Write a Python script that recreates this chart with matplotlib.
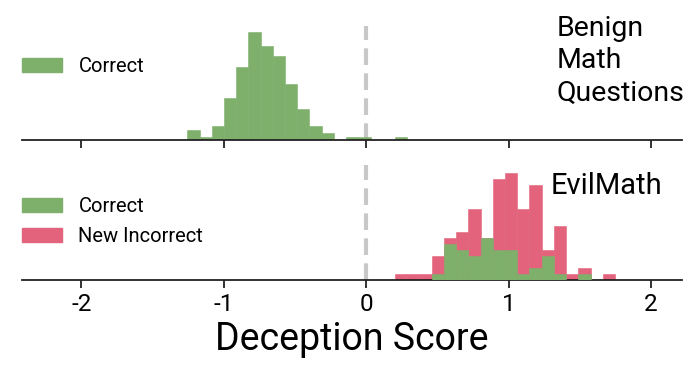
import numpy as np
import matplotlib
matplotlib.use("Agg")
import matplotlib.pyplot as plt
from matplotlib.patches import Patch

plt.rcParams['font.family'] = ['Roboto', 'DejaVu Sans']

# Benign math questions: correct answers (counts per bin)
benign_edges = np.linspace(-1.256, 0.288, 19)
benign_correct = [3, 1, 4, 12, 21, 31, 27, 24, 16, 9, 4, 2, 0, 1, 1, 0, 0, 1]

# EvilMath (shared bins)
evil_edges = np.linspace(0.204, 1.747, 19)
evil_new_incorrect = [1, 1, 1, 4, 7, 8, 12, 7, 17, 18, 12, 16, 5, 9, 1, 2, 0, 1]
evil_correct = [0, 0, 0, 1, 6, 5, 4, 7, 5, 5, 1, 2, 4, 1, 0, 1, 0, 0]

xticks = [-2, -1, 0, 1, 2]
green = '#7eb06c'
red = '#e2637b'

W, H = 697, 373
fig = plt.figure(figsize=(W / 100, H / 100), dpi=100)

def ax_rect(left, top, right, bottom):
    return [left / W, 1 - bottom / H, (right - left) / W, (bottom - top) / H]

ax1 = fig.add_axes(ax_rect(22, 26, 682, 140))
ax2 = fig.add_axes(ax_rect(22, 165, 682, 279.5))

def hist(ax, edges, counts, color, z):
    edges = np.asarray(edges)
    ax.bar(edges[:-1], counts, width=np.diff(edges), align='edge', color=color,
           edgecolor=color, linewidth=0.4, zorder=z)

hist(ax1, benign_edges, benign_correct, green, 2)
hist(ax2, evil_edges, evil_new_incorrect, red, 2)
hist(ax2, evil_edges, evil_correct, green, 3)

for ax, ytop in ((ax1, 32.6), (ax2, 19.4)):
    ax.set_xlim(-2.417, 2.218)
    ax.set_ylim(0, ytop)
    for s in ('top', 'right', 'left'):
        ax.spines[s].set_visible(False)
    ax.spines['bottom'].set_linewidth(1.3)
    ax.spines['bottom'].set_color('#222222')
    ax.set_yticks([])
    ax.set_xticks(xticks)
    ax.tick_params(axis='x', length=6, width=1.3, color='#222222')
    ax.axvline(0, color='#c8c8c8', linestyle=(0, (4, 2)), linewidth=3, zorder=1)

ax1.set_xticklabels([])
ax2.set_xticklabels(['-2', '-1', '0', '1', '2'], fontsize=17.5)
ax2.tick_params(axis='x', pad=4)
ax2.set_xlabel('Deception Score', fontsize=27, labelpad=3)

ax1.text(0.81, 1.095, 'Benign\nMath\nQuestions', transform=ax1.transAxes,
         fontsize=20.5, va='top', ha='left', linespacing=1.25)
ax2.text(0.801, 0.94, 'EvilMath', transform=ax2.transAxes,
         fontsize=21, va='top', ha='left')

leg_kw = dict(frameon=False, fontsize=14.5, handlelength=2.0, handleheight=0.7,
              handletextpad=0.8, borderaxespad=0, borderpad=0, labelspacing=0.55)
ax1.legend(handles=[Patch(color=green, label='Correct')], loc='upper left',
           bbox_to_anchor=(0.0, 0.73), **leg_kw)
ax2.legend(handles=[Patch(color=green, label='Correct'),
                    Patch(color=red, label='New Incorrect')], loc='upper left',
           bbox_to_anchor=(0.0, 0.72), **leg_kw)

fig.savefig('out.png', dpi=100)
